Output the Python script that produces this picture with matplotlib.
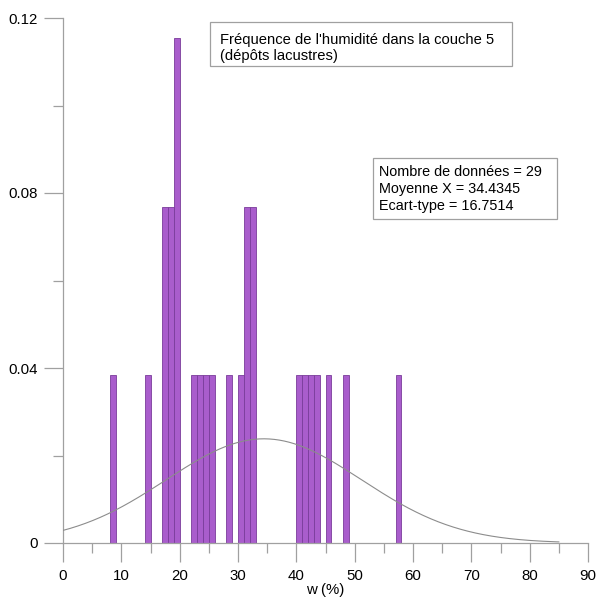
import numpy as np
import matplotlib
matplotlib.use("Agg")
import matplotlib.pyplot as plt
from matplotlib.patches import Rectangle
from matplotlib.ticker import MultipleLocator, FixedLocator

plt.rcParams['font.family'] = ['Liberation Sans', 'DejaVu Sans']

# Histogram bins (left edge, width 1) and relative frequencies
bin_left = [8, 14, 17, 18, 19, 22, 23, 24, 25, 28, 30, 31, 32, 40, 41, 42, 43, 45, 48, 57]
freq = [0.0385, 0.0385, 0.0769, 0.0769, 0.1154, 0.0385, 0.0385, 0.0385, 0.0385, 0.0385,
        0.0385, 0.0769, 0.0769, 0.0385, 0.0385, 0.0385, 0.0385, 0.0385, 0.0385, 0.0385]
n_data = 29
mean_x = 34.4345
std_x = 16.7514
curve_range = (0, 85)

W, H = 598, 603
fig = plt.figure(figsize=(W / 100, H / 100), dpi=100)
ax = fig.add_axes([63 / W, 1 - 543 / H, (588 - 63) / W, (543 - 18) / H])

ax.bar(bin_left, freq, width=1.0, align='edge', color='#A95DCC',
       edgecolor='#7A3C9A', linewidth=0.6, zorder=2)

xc = np.linspace(curve_range[0], curve_range[1], 400)
yc = np.exp(-0.5 * ((xc - mean_x) / std_x) ** 2) / (std_x * np.sqrt(2 * np.pi))
ax.plot(xc, yc, color='#8c8c8c', linewidth=0.8, zorder=3)

ax.set_xlim(0, 90)
ax.set_ylim(0, 0.12)
for s in ['top', 'right']:
    ax.spines[s].set_visible(False)
for s in ['left', 'bottom']:
    ax.spines[s].set_color('#a0a0a0')
    ax.spines[s].set_linewidth(0.9)

ax.xaxis.set_major_locator(MultipleLocator(10))
ax.xaxis.set_minor_locator(MultipleLocator(5))
ax.yaxis.set_major_locator(FixedLocator([0, 0.04, 0.08, 0.12]))
ax.yaxis.set_minor_locator(MultipleLocator(0.02))
ax.set_yticklabels(['0', '0.04', '0.08', '0.12'])
ax.tick_params(which='major', direction='out', length=14, width=0.9, color='#a0a0a0',
               labelsize=10.8, pad=4)
ax.tick_params(axis='x', which='major', pad=5)
ax.tick_params(which='minor', direction='out', length=7.5, width=0.9, color='#a0a0a0')
ax.set_xlabel('w (%)', fontsize=10.8, labelpad=0)

# Title box
fig.patches.append(Rectangle((210 / W, 1 - 66 / H), (512 - 210) / W, (66 - 22) / H,
                             transform=fig.transFigure, facecolor='white',
                             edgecolor='#a0a0a0', linewidth=0.9, zorder=5))
fig.text(220 / W, 1 - 40 / H, "Fréquence de l'humidité dans la couche 5",
         fontsize=10.6, va='center', ha='left', zorder=6)
fig.text(220 / W, 1 - 56 / H, "(dépôts lacustres)",
         fontsize=10.6, va='center', ha='left', zorder=6)

# Stats box
fig.patches.append(Rectangle((373 / W, 1 - 219 / H), (557 - 373) / W, (219 - 158) / H,
                             transform=fig.transFigure, facecolor='white',
                             edgecolor='#a0a0a0', linewidth=0.9, zorder=5))
stats = [f"Nombre de données = {n_data}", f"Moyenne X = {mean_x}", f"Ecart-type = {std_x}"]
for i, s in enumerate(stats):
    fig.text(379 / W, 1 - (172 + 17 * i) / H, s, fontsize=10.4, va='center', ha='left', zorder=6)

fig.savefig('out.png', dpi=100)
